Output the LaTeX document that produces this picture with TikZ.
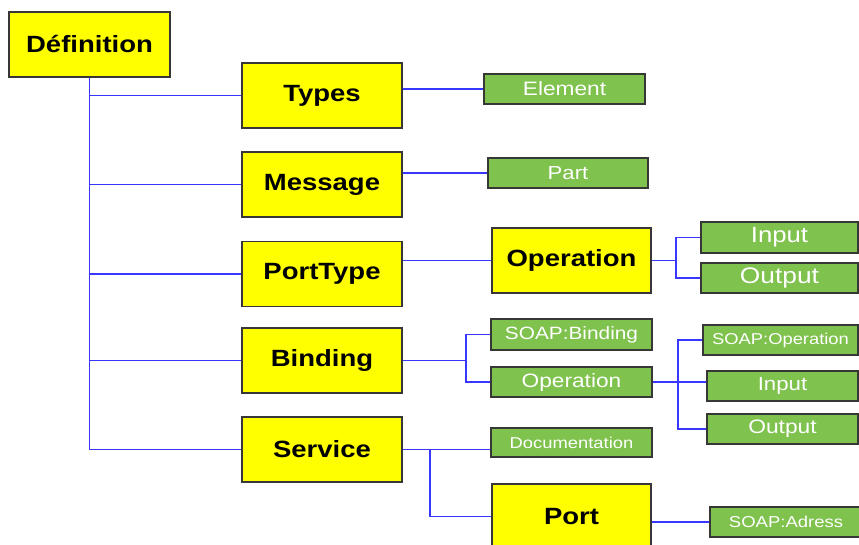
\documentclass[tikz,border=0pt]{standalone}
\usepackage{fontspec}
\newfontfamily\lsans[FakeStretch=1.17]{Liberation Sans}
\definecolor{yellowfill}{RGB}{255,255,0}
\definecolor{greenfill}{RGB}{127,194,77}
\definecolor{linkblue}{RGB}{55,55,255}
\definecolor{boxborder}{RGB}{55,55,55}
\begin{document}
\begin{tikzpicture}[x=1pt,y=-1pt,
  box/.style={draw=boxborder, line width=1.5pt, rectangle, inner sep=0pt, anchor=center},
  ybox/.style={box, fill=yellowfill, minimum width=160pt, minimum height=65pt,
    font=\lsans\bfseries\fontsize{23.5}{28}\selectfont},
  gbox/.style={box, fill=greenfill, text=white, minimum height=30pt,
    font=\lsans\fontsize{#1}{#1}\selectfont},
  conn/.style={draw=linkblue, line width=1.9pt}]
\useasboundingbox (0,0) rectangle (859,545);
\clip (0,0) rectangle (859,545);
\fill[white] (0,0) rectangle (859,545);

% connectors
\coordinate (b1) at (676,260.5);
\coordinate (b2) at (466,360.5);
\coordinate (b3) at (678,382);
\coordinate (b4) at (430,449.5);

% yellow nodes
\node[ybox, minimum width=161pt] (def) at (89.5,44.5) {Définition};
\node[ybox] (types) at (322,95.5) {Types};
\node[ybox] (msg) at (322,184.5) {Message};
\node[ybox] (ptype) at (322,274) {PortType};
\node[ybox] (bind) at (322,360.5) {Binding};
\node[ybox] (serv) at (322,449.5) {Service};
\node[ybox, minimum width=159pt] (op) at (571.5,260.5) {Operation};
\node[ybox, minimum width=159pt] (port) at (571.5,516.5) {Port};

% green nodes
\node[gbox=19.4, minimum width=161pt] (elem) at (564.5,89) {Element};
\node[gbox=18.9, minimum width=160pt] (part) at (568,173) {Part};
\node[gbox=22, minimum width=157pt, minimum height=31pt] (in1) at (779.5,237.5) {Input};
\node[gbox=22.5, minimum width=157pt] (out1) at (779.5,278) {Output};
\node[gbox=17.8, minimum width=161pt, minimum height=31pt] (sbind) at (571.5,334.5) {SOAP:Binding};
\node[gbox=19.4, minimum width=161pt] (opg) at (571.5,382) {Operation};
\node[gbox=15.7, minimum width=155pt] (sop) at (780.5,340) {SOAP:Operation};
\node[gbox=19, minimum width=151pt] (in2) at (782.5,386) {Input};
\node[gbox=19.5, minimum width=151pt] (out2) at (782.5,429) {Output};
\node[gbox=15.7, minimum width=161pt, minimum height=29pt] (doc) at (571.5,442.5) {Documentation};
\node[gbox=15.8, minimum width=152pt] (sadr) at (786,522) {SOAP:Adress};

\draw[conn] (def.south) |- (serv.west);
\foreach \n in {types,msg,ptype,bind} \draw[conn] (def.south |- \n.west) -- (\n.west);
\draw[conn] (types.east |- elem.west) -- (elem.west);
\draw[conn] (msg.east |- part.west) -- (part.west);
\draw[conn] (ptype.east |- op.west) -- (op.west);
\draw[conn] (op.east) -- (b1) (in1.west) -| (b1) |- (out1.west);
\draw[conn] (bind.east) -- (b2) (sbind.west) -| (b2) |- (opg.west);
\draw[conn] (opg.east) -- (opg.east -| in2.west);
\draw[conn] (sop.west) -| (b3) |- (out2.west);
\draw[conn] (serv.east) -- (serv.east -| doc.west);
\draw[conn] (b4) |- (port.west);
\draw[conn] (port.east |- sadr.west) -- (sadr.west);
\end{tikzpicture}
\end{document}
